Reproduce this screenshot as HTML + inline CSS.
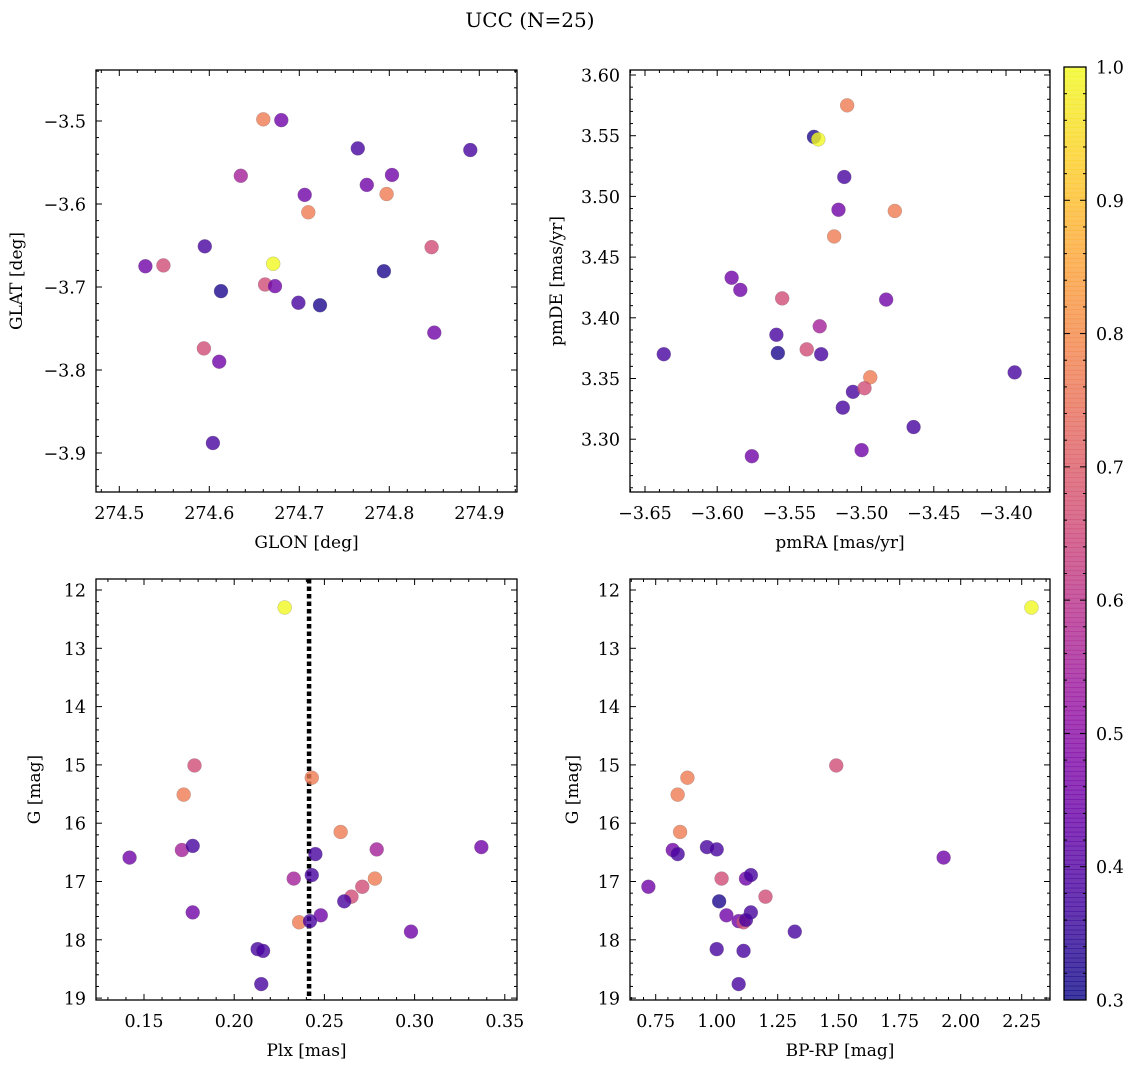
<!DOCTYPE html>
<html><head><meta charset="utf-8"><style>
html,body{margin:0;padding:0;background:#fff}
svg{display:block;font-family:"DejaVu Serif","Liberation Serif",serif}
</style></head><body>
<svg id="c" width="1136" height="1067" viewBox="0 0 1136 1067">
<text x="530" y="27" text-anchor="middle" font-size="20">UCC (N=25)</text>
</svg>
<script>
const glonVals=[274.529,274.549,274.660,274.680,274.635,274.595,274.671,274.706,274.710,274.765,274.775,274.803,274.797,274.890,274.613,274.662,274.673,274.699,274.723,274.794,274.847,274.850,274.594,274.611,274.604];
const glatVals=[-3.675,-3.674,-3.498,-3.499,-3.566,-3.651,-3.672,-3.589,-3.610,-3.533,-3.577,-3.565,-3.588,-3.535,-3.705,-3.697,-3.699,-3.719,-3.722,-3.681,-3.652,-3.755,-3.774,-3.790,-3.888];
const p1Prob=[0.45,0.66,0.77,0.45,0.55,0.38,1.0,0.45,0.77,0.38,0.45,0.45,0.77,0.38,0.32,0.66,0.45,0.38,0.32,0.32,0.66,0.45,0.66,0.45,0.38];

const pmraVals=[-3.533,-3.530,-3.510,-3.512,-3.516,-3.519,-3.477,-3.590,-3.584,-3.555,-3.483,-3.637,-3.559,-3.558,-3.538,-3.529,-3.528,-3.494,-3.506,-3.498,-3.513,-3.464,-3.394,-3.500,-3.576];
const pmdeVals=[3.549,3.547,3.575,3.516,3.489,3.467,3.488,3.433,3.423,3.416,3.415,3.370,3.386,3.371,3.374,3.393,3.370,3.351,3.339,3.342,3.326,3.310,3.355,3.291,3.286];
const p2Prob=[0.32,1.0,0.77,0.38,0.45,0.77,0.77,0.45,0.45,0.66,0.45,0.38,0.38,0.32,0.66,0.55,0.38,0.77,0.38,0.66,0.38,0.38,0.38,0.45,0.45];

const plxVals=[0.228,0.178,0.172,0.243,0.259,0.142,0.171,0.177,0.177,0.233,0.243,0.245,0.279,0.278,0.271,0.265,0.248,0.236,0.242,0.261,0.298,0.213,0.216,0.215,0.337];
const gPlxVals=[12.30,15.01,15.51,15.22,16.15,16.59,16.46,16.39,17.53,16.95,16.89,16.53,16.45,16.95,17.09,17.26,17.58,17.70,17.68,17.34,17.86,18.16,18.19,18.76,16.41];
const p3Prob=[1.0,0.66,0.77,0.77,0.77,0.45,0.55,0.38,0.45,0.55,0.38,0.38,0.55,0.77,0.66,0.66,0.45,0.77,0.38,0.38,0.45,0.38,0.38,0.38,0.45];

const bprpVals=[2.29,1.49,0.72,0.88,0.84,0.85,0.82,0.84,0.96,1.00,1.02,1.12,1.14,1.01,1.04,1.20,1.09,1.11,1.14,1.32,1.00,1.11,1.09,1.93,1.12];
const gBprpVals=[12.30,15.01,17.09,15.22,15.51,16.15,16.46,16.53,16.41,16.45,16.95,16.95,16.89,17.34,17.58,17.26,17.68,17.70,17.53,17.86,18.16,18.19,18.76,16.59,17.66];
const p4Prob=[1.0,0.66,0.45,0.77,0.77,0.77,0.45,0.38,0.38,0.38,0.66,0.45,0.38,0.32,0.45,0.66,0.45,0.66,0.38,0.38,0.38,0.38,0.38,0.45,0.38];

const cbTicks=[0.3,0.4,0.5,0.6,0.7,0.8,0.9,1.0];
const plxLine=0.2415;

const NS='http://www.w3.org/2000/svg';
const svg=document.getElementById('c');
function mk(tag,attrs,parent){const e=document.createElementNS(NS,tag);for(const k in attrs)e.setAttribute(k,attrs[k]);(parent||svg).appendChild(e);return e;}
const stops=['#0d0887','#41049d','#6a00a8','#8f0da4','#b12a90','#cc4778','#e16462','#f2844b','#fca636','#fcce25','#f0f921'];
function hex(h){return [parseInt(h.substr(1,2),16),parseInt(h.substr(3,2),16),parseInt(h.substr(5,2),16)];}
function plasma(p){let t=(p-0.3)/0.7;t=Math.max(0,Math.min(1,t));const f=t*10,i=Math.min(9,Math.floor(f)),r=f-i;const a=hex(stops[i]),b=hex(stops[i+1]);return 'rgb('+a.map((v,k)=>Math.round(v+(b[k]-v)*r)).join(',')+')';}
function fmt(v,d){let s=v.toFixed(d);return s.replace('-','\u2212');}
const FS=17.5;

function panel(o){
  const g=mk('g',{});
  
  
  const L=o.x0,R=o.x1,T=o.y0,B=o.y1;
  const sx=v=>o.px0+(v-o.v0)*o.kx;
  const sy=v=>o.py0+(v-o.w0)*o.ky;
  const tg=mk('g',{stroke:'#000','stroke-width':1},g);
  function xt(v,len){const x=sx(v);if(x<L||x>R)return;mk('line',{x1:x,y1:B,x2:x,y2:B-len},tg);mk('line',{x1:x,y1:T,x2:x,y2:T+len},tg);}
  function yt(v,len){const y=sy(v);if(y<T||y>B)return;mk('line',{x1:L,y1:y,x2:L+len,y2:y},tg);mk('line',{x1:R,y1:y,x2:R-len,y2:y},tg);}
  for(let k=-20;k<=60;k++){const v=o.xt0+k*o.xstep/5;if(k%5===0)xt(v,6);else xt(v,3);}
  for(let k=-20;k<=60;k++){const v=o.yt0+k*o.ystep/5;if(k%5===0)yt(v,6);else yt(v,3);}
  for(let i=0;i<o.xn;i++){const v=o.xt0+i*o.xstep;const t=mk('text',{x:sx(v),y:B+27,'text-anchor':'middle','font-size':FS},g);t.textContent=fmt(v,o.xd);
    
    }
  for(let i=0;i<o.yn;i++){const v=o.yt0+i*o.ystep;const t=mk('text',{x:L-10,y:sy(v)+6.5,'text-anchor':'end','font-size':FS},g);t.textContent=fmt(v,o.yd);
    
    }
  const xl=mk('text',{x:(L+R)/2,y:B+56,'text-anchor':'middle','font-size':17},g);xl.textContent=o.xlabel;
  
  
  const yx=o.ylx,yy=(T+B)/2;
  const yl=mk('text',{x:yx,y:yy,'text-anchor':'middle','font-size':17,transform:'rotate(-90 '+yx+' '+yy+')'},g);yl.textContent=o.ylabel;
  
  
  if(o.vline!==undefined){const x=sx(o.vline);const ln=mk('line',{x1:x,y1:T,x2:x,y2:B,stroke:'#000','stroke-width':4.5,'stroke-dasharray':'4.5 3'},g);
    
    }
  for(let i=0;i<o.xs.length;i++){
    const c=mk('circle',{cx:sx(o.xs[i]),cy:sy(o.ys[i]),r:7,fill:plasma(o.ps[i]),'fill-opacity':0.8,stroke:'#777','stroke-width':0.4,'stroke-opacity':0.6},g);
    
    
  }
  const fr=mk('rect',{x:L,y:T,width:R-L,height:B-T,fill:'none',stroke:'#000','stroke-width':1.3},g);
  
  
}
panel({name:'glon-glat-panel',x0:96,x1:517,y0:70,y1:492,px0:119.3,v0:274.5,kx:900,py0:121,w0:-3.5,ky:-830,
  xt0:274.5,xstep:0.1,xn:5,xd:1,yt0:-3.9,ystep:0.1,yn:5,yd:1,xlabel:'GLON [deg]',ylabel:'GLAT [deg]',ylx:22,xs:glonVals,ys:glatVals,ps:p1Prob});
panel({name:'pm-panel',x0:630,x1:1050,y0:70,y1:492,px0:645,v0:-3.65,kx:1444,py0:75,w0:3.60,ky:-1214,
  xt0:-3.65,xstep:0.05,xn:6,xd:2,yt0:3.30,ystep:0.05,yn:7,yd:2,xlabel:'pmRA [mas/yr]',ylabel:'pmDE [mas/yr]',ylx:562,xs:pmraVals,ys:pmdeVals,ps:p2Prob});
panel({name:'plx-g-panel',x0:96,x1:517,y0:579,y1:1000,px0:144,v0:0.15,kx:1804,py0:590,w0:12,ky:58.3,
  xt0:0.15,xstep:0.05,xn:5,xd:2,yt0:12,ystep:1,yn:8,yd:0,xlabel:'Plx [mas]',ylabel:'G [mag]',ylx:40,xs:plxVals,ys:gPlxVals,ps:p3Prob,vline:plxLine});
panel({name:'cmd-panel',x0:630,x1:1050,y0:579,y1:1000,px0:655.7,v0:0.75,kx:244,py0:590,w0:12,ky:58.3,
  xt0:0.75,xstep:0.25,xn:7,xd:2,yt0:12,ystep:1,yn:8,yd:0,xlabel:'BP-RP [mag]',ylabel:'G [mag]',ylx:578,xs:bprpVals,ys:gBprpVals,ps:p4Prob});

const cb=mk('g',{});


const CT=67,CB=1000,CL=1064,CR=1086;
const cy=v=>CB-(v-0.3)/0.7*(CB-CT);
for(let i=0;i<200;i++){const v0=0.3+0.7*i/200;const y1=cy(v0),y0=cy(v0+0.7/200);mk('rect',{x:CL,y:y0-0.3,width:CR-CL,height:y1-y0+0.6,fill:plasma(v0+0.35/200),'fill-opacity':0.8},cb);}
mk('rect',{x:CL,y:CT,width:CR-CL,height:CB-CT,fill:'none',stroke:'#000','stroke-width':1.3},cb);
for(let k=0;k<=35;k++){const v=0.3+k*0.02;const y=cy(v);mk('line',{x1:CR,y1:y,x2:CR-(k%5===0?6:3),y2:y,stroke:'#000','stroke-width':1},cb);mk('line',{x1:CL,y1:y,x2:CL+(k%5===0?6:3),y2:y,stroke:'#000','stroke-width':1},cb);}
cbTicks.forEach(v=>{const t=mk('text',{x:1096,y:cy(v)+6.5,'font-size':FS},cb);t.textContent=v.toFixed(1);
  
  });
</script>
</body></html>
